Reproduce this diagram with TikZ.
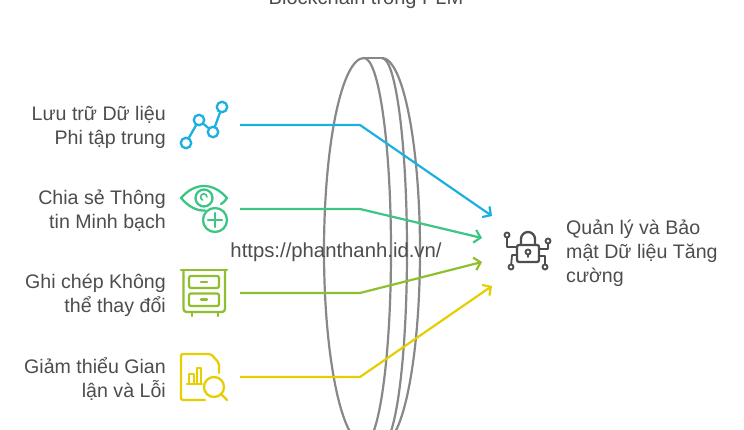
\documentclass[tikz,border=0pt]{standalone}
\usepackage{fontspec}
\setmainfont{Liberation Sans}
\usetikzlibrary{arrows.meta}
\definecolor{mblue}{HTML}{1CB0E2}
\definecolor{mgreen}{HTML}{3CC583}
\definecolor{mlime}{HTML}{8FBF2E}
\definecolor{myellow}{HTML}{E6CF00}
\definecolor{mgrey}{HTML}{888888}
\definecolor{mtext}{HTML}{4D4D4D}
\tikzset{
  lbl/.style={text=mtext, font=\fontsize{19.6}{24}\selectfont, inner sep=0pt},
  conn/.style={line width=2.2pt, -{Straight Barb[length=6pt,width=13pt]}},
  icon/.style={line width=2.3pt, line join=round, line cap=round},
  dot/.style={circle, draw, line width=2.3pt, inner sep=0pt, minimum size=10.5pt},
  pin/.style={circle, draw=mtext, line width=1.8pt, inner sep=0pt, minimum size=5pt},
}

\begin{document}
\begin{tikzpicture}[x=1pt, y=-1pt]
    \path [use as bounding box, clip] (0, 0) rectangle (744, 430);
    \fill [white] (0, 0) rectangle (744, 430);

    % lens
    \draw [mgrey, line width=2.2pt] (364, 58) arc [start angle=90, end angle=270, x radius=40pt, y radius=193pt];
    \draw [mgrey, line width=2.2pt] (364, 58) arc [start angle=90, end angle=-90, x radius=27pt, y radius=193pt];
    \draw [mgrey, line width=2.2pt] (382, 58) arc [start angle=90, end angle=-90, x radius=25pt, y radius=193pt];
    \draw [mgrey, line width=2.2pt] (382, 58) arc [start angle=90, end angle=-90, x radius=38pt, y radius=193pt];
    \draw [mgrey, line width=2.2pt] (364, 58) -- (382, 58);

    \node [lbl, anchor=base, font=\fontsize{20}{24}\selectfont] (title) at (366, 5) {Blockchain trong PLM};
    \node [lbl, align=right, anchor=east] (store) at (166, 127) {Lưu trữ Dữ liệu\\Phi tập trung};
    \node [lbl, align=right, anchor=east] (share) at (166, 211) {Chia sẻ Thông\\tin Minh bạch};
    \node [lbl, align=right, anchor=east] (record) at (166, 295) {Ghi chép Không\\thể thay đổi};
    \node [lbl, align=right, anchor=east] (reduce) at (166, 379) {Giảm thiểu Gian\\lận và Lỗi};
    \node [lbl, align=left, anchor=west] (result) at (566, 253) {Quản lý và Bảo\\mật Dữ liệu Tăng\\cường};
    \node [lbl, anchor=center, font=\fontsize{20.3}{24}\selectfont] (site) at (336, 252) {https://phanthanh.id.vn/};

    % connectors
    \coordinate (storestart) at (240, 125);
    \coordinate (storebend) at (360, 125);
    \coordinate (storeend) at (492, 216);
    \coordinate (sharestart) at (240, 209);
    \coordinate (sharebend) at (360, 209);
    \coordinate (shareend) at (482, 238);
    \coordinate (recordstart) at (240, 293);
    \coordinate (recordbend) at (360, 293);
    \coordinate (recordend) at (482, 262);
    \coordinate (reducestart) at (240, 377);
    \coordinate (reducebend) at (360, 377);
    \coordinate (reduceend) at (492, 286);
    \draw [conn, mblue] (storestart) -- (storebend) -- (storeend);
    \draw [conn, mgreen] (sharestart) -- (sharebend) -- (shareend);
    \draw [conn, mlime] (recordstart) -- (recordbend) -- (recordend);
    \draw [conn, myellow] (reducestart) -- (reducebend) -- (reduceend);

    % chart icon
    \node [dot, mblue] (pa) at (186, 143) {};
    \node [dot, mblue] (pb) at (199, 120) {};
    \node [dot, mblue] (pc) at (213, 132) {};
    \node [dot, mblue] (pd) at (222, 107) {};
    \draw [icon, mblue] (pa) -- (pb) (pb) -- (pc) (pc) -- (pd);

    % eye icon
    \draw [icon, mgreen] (205, 210.5) .. controls (196, 211) and (188, 206) .. (181, 198)
      .. controls (188, 190) and (196, 186) .. (204, 186)
      .. controls (212, 186) and (220, 190) .. (227, 198)
      .. controls (225, 201) and (223, 203) .. (221, 204);
    \draw [icon, mgreen] (204, 198) circle [radius=8.5pt];
    \draw [icon, mgreen, line width=1.6pt] (207, 197) arc [start angle=0, end angle=250, radius=3.2pt];
    \draw [icon, mgreen] (215, 220) circle [radius=12pt];
    \draw [icon, mgreen] (208, 220) -- (222, 220) (215, 213) -- (215, 227);

    % cabinet icon
    \draw [icon, mlime] (181, 270) -- (227, 270);
    \draw [icon, mlime, rounded corners=3pt] (183.5, 270) -- (183.5, 312) -- (225, 312) -- (225, 270);
    \draw [icon, mlime, rounded corners=2pt] (189, 276) rectangle (219, 288);
    \draw [icon, mlime, rounded corners=2pt] (189, 293.5) rectangle (219, 306);
    \draw [icon, mlime] (201, 282) -- (207, 282) (201, 299.5) -- (207, 299.5);
    \draw [icon, mlime] (192, 312) -- (192, 316) (218, 312) -- (218, 316);

    % report icon
    \draw [icon, myellow, rounded corners=2pt] (205, 400) -- (181, 400) -- (181, 354) -- (211, 354) -- (219, 363) -- (219, 373);
    \draw [icon, myellow] (187, 384) -- (202, 384);
    \draw [icon, myellow] (189, 384) -- (189, 374) -- (194, 374) -- (194, 384);
    \draw [icon, myellow] (197, 384) -- (197, 368) -- (201, 368) -- (201, 384);
    \draw [icon, myellow] (214, 387) circle [radius=10pt];
    \draw [icon, myellow] (221, 394) -- (227, 400);

    % lock icon
    \draw [icon, mtext, rounded corners=2pt] (517, 245) rectangle (539, 262);
    \draw [icon, mtext] (521, 245) -- (521, 239) arc [start angle=180, end angle=0, radius=7pt] -- (535, 245);
    \node [pin] (keyhole) at (528, 252) {};
    \draw [icon, mtext, line width=1.8pt] (keyhole) -- (528, 257);
    \node [pin] (pinnw) at (507, 235) {};
    \node [pin] (pinne) at (548, 241) {};
    \node [pin] (pinsw) at (511, 267) {};
    \node [pin] (pinse) at (545, 267) {};
    \draw [icon, mtext, line width=1.8pt] (pinnw) -- (507, 247) -- (517, 247);
    \draw [icon, mtext, line width=1.8pt] (pinne) -- (548, 249) -- (539, 249);
    \draw [icon, mtext, line width=1.8pt] (pinsw) -- (512, 255) -- (517, 255);
    \draw [icon, mtext, line width=1.8pt] (pinse) -- (545, 256) -- (539, 256);
\end{tikzpicture}
\end{document}
